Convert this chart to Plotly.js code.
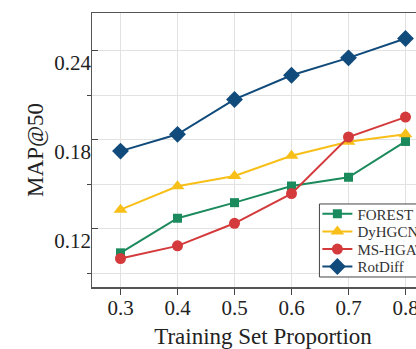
<!DOCTYPE html>
<html>
<head>
<meta charset="utf-8">
<script src="https://cdn.plot.ly/plotly-3.0.1.min.js"></script>
<style>
html, body { margin: 0; padding: 0; overflow: hidden; background: #fff; }
#chart { width: 440px; height: 349px; }
</style>
</head>
<body>
<div id="chart"></div>
<script>
const proportions = [0.3, 0.4, 0.5, 0.6, 0.7, 0.8];
const forest = [0.1038, 0.1271, 0.1376, 0.1488, 0.1547, 0.1788];
const dyhgcn = [0.1329, 0.1486, 0.1555, 0.1692, 0.1786, 0.1836];
const mshgat = [0.1000, 0.1085, 0.1237, 0.1437, 0.1818, 0.1952];
const rotdiff = [0.1723, 0.1836, 0.2071, 0.2234, 0.2351, 0.2481];
const seriesNames = ["FOREST", "DyHGCN", "MS-HGAT", "RotDiff"];
const yTickVals = [0.12, 0.18, 0.24];
const xTickVals = [0.3, 0.4, 0.5, 0.6, 0.7, 0.8];
const yTitle = 'MAP@50';
const xTitle = 'Training Set Proportion';

const FONT = '"Liberation Serif", "Times New Roman", serif';
const legendIds = ['legend', 'legend2', 'legend3', 'legend4'];
const legendY = [0.2664, 0.2018, 0.1376, 0.0741];
const yRange = [0.0808, 0.2653];
// the reference prints its y labels ~12px below their ticks
const labelShift = 12 / 274 * (yRange[1] - yRange[0]);

function trace(i, y, color, symbol, size) {
  return {
    x: proportions, y: y, name: seriesNames[i], type: 'scatter', mode: 'lines+markers',
    legend: legendIds[i],
    line: { color: color, width: 2 },
    marker: { color: color, symbol: symbol, size: size }
  };
}

const data = [
  trace(0, forest, '#1b8a5d', 'square', 9),
  trace(1, dyhgcn, '#f7bf17', 'triangle-up', 12),
  trace(2, mshgat, '#d43a3b', 'circle', 11),
  trace(3, rotdiff, '#104b7b', 'diamond', 13),
  { x: [], y: [], yaxis: 'y2', showlegend: false, type: 'scatter' }
];

const layout = {
  width: 440, height: 349,
  margin: { l: 92, r: 6, t: 13, b: 62 },
  paper_bgcolor: '#fff', plot_bgcolor: '#fff',
  font: { family: FONT, color: '#222' },
  showlegend: true,
  shapes: [{
    type: 'rect', xref: 'paper', yref: 'paper', layer: 'above',
    x0: 0.665, x1: 1.2, y0: 0.0365, y1: 0.303,
    line: { color: '#444', width: 1 }, fillcolor: '#fff'
  }],
  annotations: [{
    text: yTitle, xref: 'paper', yref: 'paper', x: -0.1669, y: 0.5,
    xanchor: 'center', yanchor: 'middle', textangle: -90, showarrow: false,
    font: { family: FONT, size: 23, color: '#222' }
  }],
  xaxis: {
    range: [0.25, 0.85],
    tickvals: xTickVals, ticktext: xTickVals.map(v => v.toFixed(1)),
    ticks: 'outside', ticklen: 6, tickcolor: '#444', tickwidth: 1,
    ticklabelstandoff: -5,
    tickfont: { family: FONT, size: 21, color: '#222' },
    showline: true, linecolor: '#555', linewidth: 1.5, mirror: true,
    showgrid: true, gridcolor: '#e2e2e2', gridwidth: 1,
    zeroline: false,
    title: { text: xTitle, font: { family: FONT, size: 23, color: '#222' }, standoff: 25 }
  },
  yaxis: {
    range: yRange,
    tickvals: yTickVals, showticklabels: false,
    ticks: 'inside', ticklen: 6, tickcolor: '#444', tickwidth: 1,
    showline: true, linecolor: '#555', linewidth: 1.5, mirror: true,
    showgrid: true, gridcolor: '#e2e2e2', gridwidth: 1,
    minor: { tickvals: [0.09, 0.15, 0.21], ticks: 'outside', ticklen: 4, tickcolor: '#444', showgrid: true, gridcolor: '#e2e2e2', gridwidth: 1 },
    zeroline: false
  },
  yaxis2: {
    overlaying: 'y', side: 'left',
    range: [yRange[0] + labelShift, yRange[1] + labelShift],
    tickvals: yTickVals, ticktext: yTickVals.map(v => v.toFixed(2)),
    ticks: '', showgrid: false, showline: false, zeroline: false,
    tickfont: { family: FONT, size: 21, color: '#222' }
  }
};

legendIds.forEach((id, i) => {
  layout[id] = {
    x: 0.659, y: legendY[i], xanchor: 'left', yanchor: 'middle',
    bgcolor: 'rgba(0,0,0,0)', borderwidth: 0,
    font: { family: FONT, size: 15, color: '#333' },
    itemwidth: 30
  };
});

Plotly.newPlot('chart', data, layout, { displayModeBar: false, staticPlot: true });
</script>
</body>
</html>
